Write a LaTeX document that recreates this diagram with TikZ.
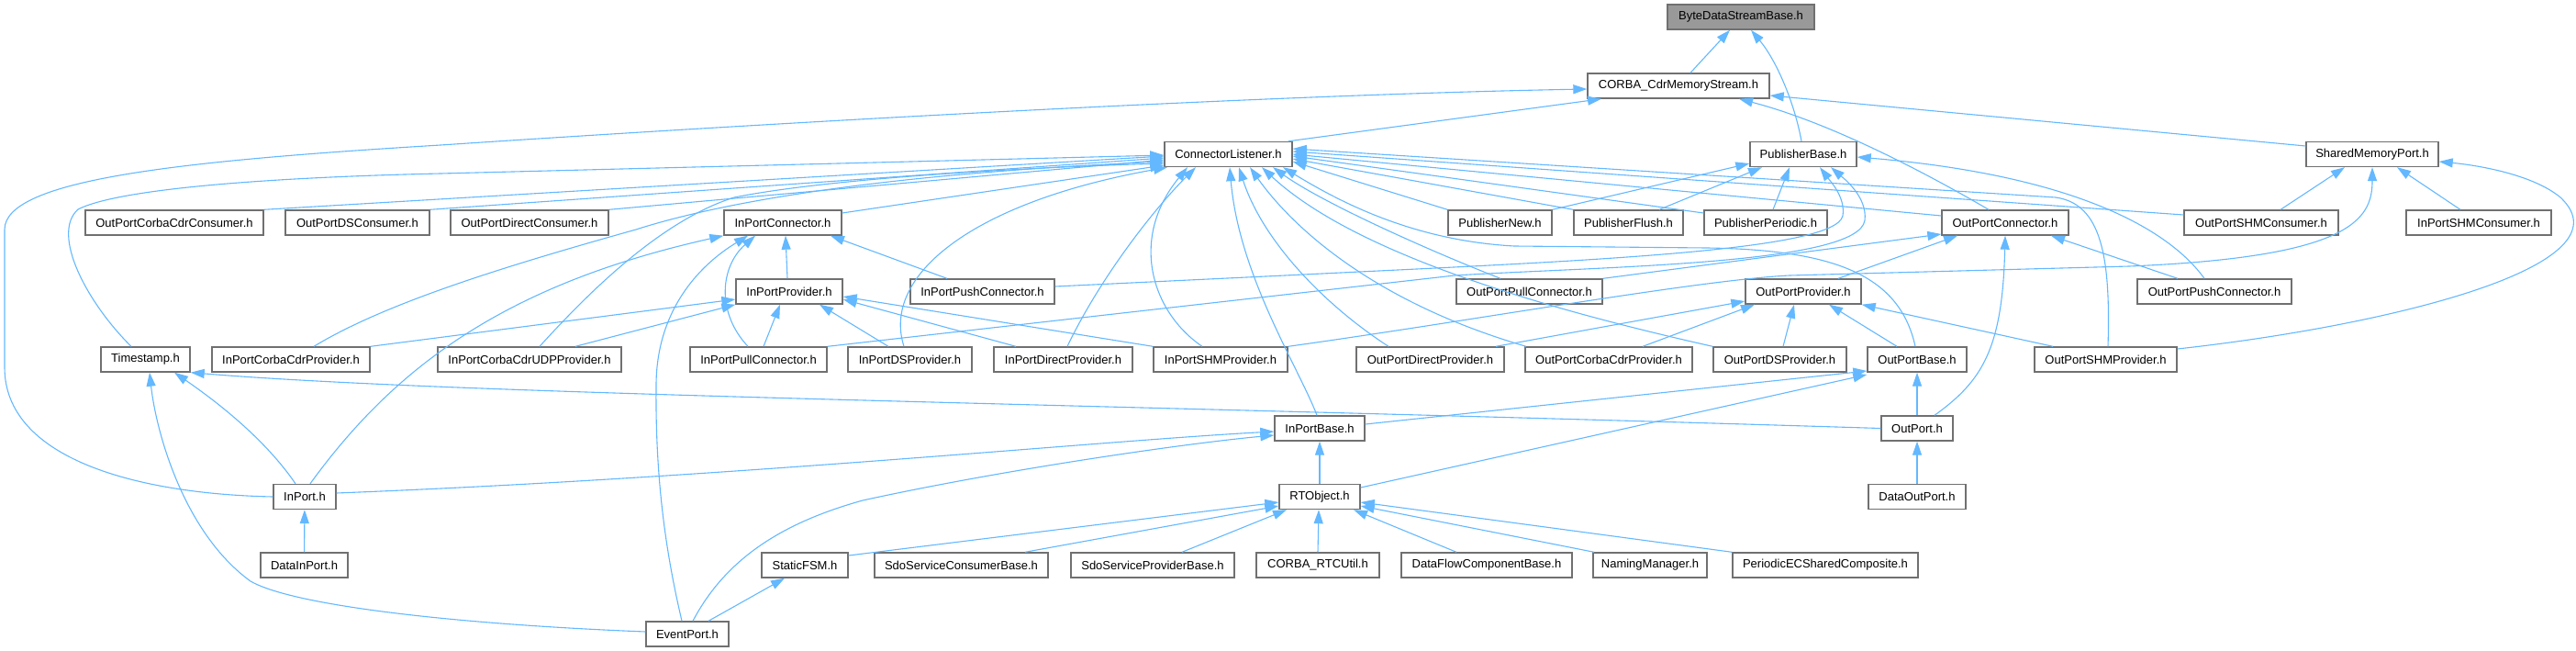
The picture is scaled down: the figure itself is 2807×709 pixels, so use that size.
\documentclass[tikz,border=0pt]{standalone}
\usepackage{fontspec}
\setmainfont{Liberation Sans}
\usetikzlibrary{arrows.meta}
\definecolor{edgeblue}{HTML}{63B8FF}
\definecolor{boxgray}{HTML}{707070}
\definecolor{rootfill}{HTML}{999999}
\tikzset{
  hb/.style={draw=boxgray, fill=white, line width=1.4pt, minimum height=27pt, inner sep=0pt, font=\fontsize{13}{15}\selectfont},
  e/.style={draw=edgeblue, line width=1.1pt, -{Triangle[length=15pt,width=10pt]}},
}
\begin{document}
\begin{tikzpicture}[x=1pt,y=-1pt]
\useasboundingbox (0,0) rectangle (2807,709);
% nodes
\node[hb, fill=rootfill, minimum width=160pt] (byte) at (1897,18.5) {ByteDataStreamBase.h};
\node[hb, minimum width=198pt] (cms) at (1829,93.5) {CORBA\_CdrMemoryStream.h};
\node[hb, minimum width=139pt] (cl) at (1338.5,168) {ConnectorListener.h};
\node[hb, minimum width=116pt] (pb) at (1965,168) {PublisherBase.h};
\node[hb, minimum width=144pt] (smp) at (2585,168) {SharedMemoryPort.h};
\node[hb, minimum width=194pt] (opccc) at (190,242.5) {OutPortCorbaCdrConsumer.h};
\node[hb, minimum width=157pt] (opdsc) at (389.5,242.5) {OutPortDSConsumer.h};
\node[hb, minimum width=172pt] (opdc) at (577,242.5) {OutPortDirectConsumer.h};
\node[hb, minimum width=128pt] (ipc) at (853,242.5) {InPortConnector.h};
\node[hb, minimum width=113pt] (pn) at (1634.5,242.5) {PublisherNew.h};
\node[hb, minimum width=119pt] (pf) at (1774.5,242.5) {PublisherFlush.h};
\node[hb, minimum width=134pt] (pp) at (1924,242.5) {PublisherPeriodic.h};
\node[hb, minimum width=138pt] (opc) at (2185,242.5) {OutPortConnector.h};
\node[hb, minimum width=168pt] (opshmc) at (2464,242.5) {OutPortSHMConsumer.h};
\node[hb, minimum width=158pt] (ipshmc) at (2701,242.5) {InPortSHMConsumer.h};
\node[hb, minimum width=116pt] (ipp) at (860,317.5) {InPortProvider.h};
\node[hb, minimum width=157pt] (ippushc) at (1070.5,317.5) {InPortPushConnector.h};
\node[hb, minimum width=159pt] (oppullc) at (1666.5,317.5) {OutPortPullConnector.h};
\node[hb, minimum width=126pt] (opp) at (1965,317.5) {OutPortProvider.h};
\node[hb, minimum width=168pt] (oppushc) at (2413,317.5) {OutPortPushConnector.h};
\node[hb, minimum width=97pt] (ts) at (158.5,391.5) {Timestamp.h};
\node[hb, minimum width=172pt] (ipccp) at (317,391.5) {InPortCorbaCdrProvider.h};
\node[hb, minimum width=200pt] (ipccup) at (577,391.5) {InPortCorbaCdrUDPProvider.h};
\node[hb, minimum width=149pt] (ippullc) at (826.5,391.5) {InPortPullConnector.h};
\node[hb, minimum width=135pt] (ipdsp) at (991.5,391.5) {InPortDSProvider.h};
\node[hb, minimum width=151pt] (ipdp) at (1158.5,391.5) {InPortDirectProvider.h};
\node[hb, minimum width=146pt] (ipshmp) at (1330,391.5) {InPortSHMProvider.h};
\node[hb, minimum width=161pt] (opdp) at (1558.5,391.5) {OutPortDirectProvider.h};
\node[hb, minimum width=182pt] (opccp) at (1753,391.5) {OutPortCorbaCdrProvider.h};
\node[hb, minimum width=145pt] (opdsp) at (1939.5,391.5) {OutPortDSProvider.h};
\node[hb, minimum width=108pt] (opb) at (2089,391.5) {OutPortBase.h};
\node[hb, minimum width=155pt] (opshmp) at (2294.5,391.5) {OutPortSHMProvider.h};
\node[hb, minimum width=98pt] (ipb) at (1438,466.5) {InPortBase.h};
\node[hb, minimum width=78pt] (op) at (2089,466.5) {OutPort.h};
\node[hb, minimum width=68pt] (ip) at (332,541) {InPort.h};
\node[hb, minimum width=88pt] (rto) at (1438,541) {RTObject.h};
\node[hb, minimum width=106pt] (dop) at (2089,541) {DataOutPort.h};
\node[hb, minimum width=95pt] (dip) at (331.5,615.5) {DataInPort.h};
\node[hb, minimum width=94pt] (sfsm) at (877,615.5) {StaticFSM.h};
\node[hb, minimum width=189pt] (sscb) at (1047.5,615.5) {SdoServiceConsumerBase.h};
\node[hb, minimum width=178pt] (sspb) at (1256,615.5) {SdoServiceProviderBase.h};
\node[hb, minimum width=134pt] (crtcu) at (1436,615.5) {CORBA\_RTCUtil.h};
\node[hb, minimum width=186pt] (dfcb) at (1620,615.5) {DataFlowComponentBase.h};
\node[hb, minimum width=124pt] (nm) at (1798,615.5) {NamingManager.h};
\node[hb, minimum width=202pt] (pecsc) at (1989,615.5) {PeriodicECSharedComposite.h};
\node[hb, minimum width=90pt] (ep) at (749,690.5) {EventPort.h};
% top
\draw[e] (1842,0 |- cms.north) -- (1885,0 |- byte.south);
\draw[e] (1963,0 |- pb.north) .. controls (1955,110) and (1935,65) .. (1908,0 |- byte.south);
\draw[e] (1404,0 |- cl.north) -- (1745,0 |- cms.south);
\draw[e] (ip.west) .. controls (150,538) and (5,500) .. (5,400) -- (5,250) .. controls (5,195) and (200,175) .. (480,158) .. controls (900,130) and (1400,103) .. (cms.west |- 0,97);
\draw[e] (2167,0 |- opc.north) .. controls (2110,195) and (2000,135) .. (1895,0 |- cms.south);
\draw[e] (smp.west |- 0,159) -- (cms.east |- 0,104);
% to cl west
\draw[e] (opccc.north east) -- (cl.west |- 0,170);
\draw[e] (opdsc.north east) -- (cl.west |- 0,172);
\draw[e] (opdc.north east) -- (cl.west |- 0,174);
\draw[e] (ipc.east |- 0,232) -- (cl.west |- 0,180);
\draw[e] (143,0 |- ts.north) .. controls (95,330) and (55,255) .. (85,228) .. controls (130,205) and (300,193) .. (480,189) -- (cl.west |- 0,169);
\draw[e] (342,0 |- ipccp.north) .. controls (420,330) and (550,290) .. (693,250) .. controls (780,222) and (950,190) .. (cl.west |- 0,176);
\draw[e] (588,0 |- ipccup.north) .. controls (640,320) and (720,240) .. (800,215) .. controls (900,195) and (1100,183) .. (cl.west |- 0,178);
% to cl bottom
\draw[e] (985,0 |- ipdsp.north) .. controls (960,300) and (1060,220) .. (1272,0 |- cl.south);
\draw[e] (1163,0 |- ipdp.north) .. controls (1200,300) and (1260,225) .. (1303,0 |- cl.south);
\draw[e] (1310,0 |- ipshmp.north) .. controls (1255,340) and (1230,260) .. (1294,0 |- cl.south);
\draw[e] (1435,0 |- ipb.north) .. controls (1415,400) and (1350,300) .. (1340,0 |- cl.south);
\draw[e] (1513,0 |- opdp.north) .. controls (1440,330) and (1375,260) .. (1350,0 |- cl.south);
\draw[e] (1663,0 |- opccp.north) .. controls (1500,330) and (1410,250) .. (1362,0 |- cl.south);
\draw[e] (opdsp.north west) .. controls (1700,340) and (1480,280) .. (1375,0 |- cl.south);
\draw[e] (1635,0 |- oppullc.north) .. controls (1550,270) and (1440,220) .. (1387,0 |- cl.south);
\draw[e] (2087,0 |- opb.north) .. controls (2070,300) and (2000,272) .. (1860,270) -- (1650,268) .. controls (1540,262) and (1460,220) .. (1398,0 |- cl.south);
% to cl east
\draw[e] (pn.north west) -- (cl.east |- 0,176);
\draw[e] (pf.north west) -- (cl.east |- 0,173);
\draw[e] (pp.west |- 0,232) -- (cl.east |- 0,170);
\draw[e] (opc.west |- 0,235) -- (cl.east |- 0,168);
\draw[e] (opshmc.west |- 0,234) -- (cl.east |- 0,165);
\draw[e] (2297,0 |- opshmp.north) .. controls (2300,280) and (2290,222) .. (2240,215) -- (cl.east |- 0,162);
% publisher base
\draw[e] (pn.north east) -- (pb.west |- 0,178);
\draw[e] (1808,0 |- pf.north) -- (1920,0 |- pb.south);
\draw[e] (1932,0 |- pp.north) -- (1950,0 |- pb.south);
\draw[e] (2402,0 |- oppushc.north) .. controls (2360,245) and (2250,190) .. (pb.east |- 0,171);
\draw[e] (ippushc.east |- 0,312) -- (1400,300) .. controls (1700,285) and (2000,275) .. (2008,235) .. controls (2011,215) and (1995,198) .. (1983,0 |- pb.south);
\draw[e] (ippullc.north east) -- (1585,300) .. controls (1750,290) and (2025,288) .. (2032,240) .. controls (2035,215) and (2010,195) .. (1995,0 |- pb.south);
% inport provider / connector
\draw[e] (1107,0 |- ipdp.north) -- (ipp.east |- 0,326);
\draw[e] (ipshmp.north west) -- (ipp.east |- 0,323);
\draw[e] (968,0 |- ipdsp.north) -- (893,0 |- ipp.south);
\draw[e] (832,0 |- ippullc.north) -- (850,0 |- ipp.south);
\draw[e] (ipccp.north east) -- (ipp.west |- 0,326);
\draw[e] (627,0 |- ipccup.north) -- (ipp.south west);
\draw[e] (858,0 |- ipp.north) -- (856,0 |- ipc.south);
\draw[e] (1032,0 |- ippushc.north) -- (905,0 |- ipc.south);
\draw[e] (815,0 |- ippullc.north) .. controls (780,340) and (785,290) .. (823,0 |- ipc.south);
\draw[e] (743,0 |- ep.north) .. controls (725,600) and (714,520) .. (715,420) .. controls (715,340) and (760,290) .. (815,0 |- ipc.south);
\draw[e] (338,0 |- ip.north) .. controls (430,400) and (550,310) .. (ipc.south west);
% outport connector
\draw[e] (2003,0 |- opp.north) -- (2133,0 |- opc.south);
\draw[e] (2373,0 |- oppushc.north) -- (2235,0 |- opc.south);
\draw[e] (2108,0 |- op.north) .. controls (2160,415) and (2182,380) .. (2185,0 |- opc.south);
\draw[e] (oppullc.north east) -- (opc.west |- 0,255);
% outport provider
\draw[e] (1943,0 |- opdsp.north) -- (1955,0 |- opp.south);
\draw[e] (2067,0 |- opb.north) -- (1993,0 |- opp.south);
\draw[e] (2237,0 |- opshmp.north) -- (opp.south east);
\draw[e] (1790,0 |- opccp.north) -- (1912,0 |- opp.south);
\draw[e] (1630,0 |- opdp.north) -- (opp.west |- 0,328);
% shared memory port
\draw[e] (2485,0 |- opshmc.north) -- (2555,0 |- smp.south);
\draw[e] (2681,0 |- ipshmc.north) -- (2612,0 |- smp.south);
\draw[e] (ipshmp.north east) .. controls (1600,350) and (1850,305) .. (1950,300) -- (2320,290) .. controls (2560,280) and (2585,240) .. (2585,0 |- smp.south);
\draw[e] (opshmp.east |- 0,380) .. controls (2600,355) and (2870,290) .. (2790,215) .. controls (2760,190) and (2700,180) .. (smp.east |- 0,176);
% lower part
\draw[e] (ip.east |- 0,537) .. controls (800,520) and (1200,480) .. (ipb.west |- 0,470);
\draw[e] (755,0 |- ep.north) .. controls (790,610) and (850,570) .. (940,545) .. controls (1100,510) and (1300,482) .. (ipb.west |- 0,474);
\draw[e] (772,0 |- ep.north) -- (855,0 |- sfsm.south);
\draw[e] (ep.west |- 0,688) .. controls (500,680) and (320,660) .. (273,633) .. controls (200,580) and (170,470) .. (163,0 |- ts.south);
\draw[e] (322,0 |- ip.north) .. controls (290,480) and (240,440) .. (190,0 |- ts.south);
\draw[e] (op.west) .. controls (1200,440) and (500,430) .. (ts.south east);
\draw[e] (dip) -- (ip);
\draw[e] (rto) -- (ipb);
\draw[e] (rto.east |- 0,531) -- (opb.west |- 0,408);
\draw[e] (ipb.east |- 0,462) -- (opb.west |- 0,404);
\draw[e] (op) -- (opb);
\draw[e] (dop) -- (op);
\draw[e] (sfsm.east |- 0,605) -- (rto.west |- 0,547);
\draw[e] (1117,0 |- sscb.north) -- (rto.west |- 0,551);
\draw[e] (1288,0 |- sspb.north) -- (1402,0 |- rto.south);
\draw[e] (1436,0 |- crtcu.north) -- (1437,0 |- rto.south);
\draw[e] (1587,0 |- dfcb.north) -- (1475,0 |- rto.south);
\draw[e] (1737,0 |- nm.north) -- (rto.east |- 0,551);
\draw[e] (pecsc.north west) -- (rto.east |- 0,547);
\end{tikzpicture}
\end{document}
